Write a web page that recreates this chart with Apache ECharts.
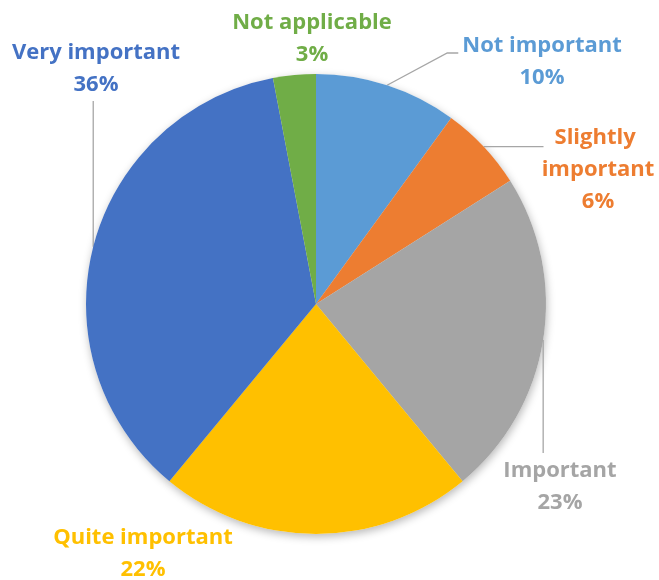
<!DOCTYPE html>
<html>
<head>
<meta charset="utf-8">
<script src="https://cdn.jsdelivr.net/npm/echarts@6/dist/echarts.min.js"></script>
<style>
  html, body { margin: 0; padding: 0; background: #ffffff; }
  #chart { width: 659px; height: 580px; }
</style>
</head>
<body>
<div id="chart"></div>
<script>
// Survey answers, percent of respondents (clockwise from 12 o'clock)
const categories = ['Not important', 'Slightly important', 'Important', 'Quite important', 'Very important', 'Not applicable'];
const shares = [10, 6, 23, 22, 36, 3];

// Slice / label colours
const colors = ['#5B9BD5', '#ED7D31', '#A5A5A5', '#FFC000', '#4472C4', '#70AD47'];

// Pie geometry
const CX = 316, CY = 304, R = 230;

// Where each label block sits: centre x, top y, and how its leader runs
const labelSpots = [
  { x: 542, y: 30, leader: 'elbow' },
  { x: 598, y: 122, leader: 'across', wrap: 125 },
  { x: 560, y: 455, leader: 'down' },
  { x: 143, y: 522, leader: 'none' },
  { x: 96, y: 37, leader: 'up' },
  { x: 312, y: 7, leader: 'none' }
];

const total = shares.reduce((a, b) => a + b, 0);

// Point on the rim at the middle of slice i
function rimPoint(i) {
  let before = 0;
  for (let k = 0; k < i; k++) before += shares[k];
  const a = (before + shares[i] / 2) / total * Math.PI * 2;
  return [CX + R * Math.sin(a), CY - R * Math.cos(a)];
}

const chart = echarts.init(document.getElementById('chart'), null, { renderer: 'canvas' });

const sliceData = categories.map((name, i) => {
  const spot = labelSpots[i];
  const item = {
    name: name,
    value: shares[i],
    itemStyle: { color: colors[i] },
    label: { color: colors[i] },
    labelLine: { show: spot.leader !== 'none' }
  };
  if (spot.wrap) {
    item.label.width = spot.wrap;
    item.label.overflow = 'break';
  }
  return item;
});

chart.setOption({
  backgroundColor: '#ffffff',
  animation: false,
  series: [
    {
      // soft drop shadow under the whole disc
      type: 'pie',
      silent: true,
      z: 1,
      center: [CX, CY],
      radius: R,
      startAngle: 90,
      label: { show: false },
      labelLine: { show: false },
      itemStyle: {
        color: '#ffffff',
        shadowBlur: 9,
        shadowOffsetX: 1,
        shadowOffsetY: 3,
        shadowColor: 'rgba(0,0,0,0.28)'
      },
      data: shares.map((v, i) => ({ name: categories[i], value: v }))
    },
    {
      type: 'pie',
      z: 2,
      center: [CX, CY],
      radius: R,
      startAngle: 90,
      avoidLabelOverlap: false,
      itemStyle: { borderWidth: 0 },
      label: {
        show: true,
        position: 'outside',
        fontFamily: 'Open Sans',
        fontWeight: 'bold',
        fontSize: 22,
        lineHeight: 32,
        align: 'center',
        formatter: (p) => p.name + '\n' + p.value + '%'
      },
      labelLine: {
        show: true,
        lineStyle: { color: '#A6A6A6', width: 1.3 }
      },
      labelLayout: (params) => {
        const i = params.dataIndex;
        const spot = labelSpots[i];
        const rect = params.labelRect;
        const out = { x: spot.x, y: spot.y, align: 'center', verticalAlign: 'top' };
        const p = rimPoint(i);
        const left = spot.x - rect.width / 2;
        if (spot.leader === 'elbow') {
          const end = [left - 4, spot.y + 23];
          out.labelLinePoints = [p, [end[0] - 11, end[1]], end];
        } else if (spot.leader === 'across') {
          out.labelLinePoints = [p, [p[0] + 35, p[1]], [left + 8, p[1]]];
        } else if (spot.leader === 'down') {
          out.labelLinePoints = [p, [p[0], (p[1] + spot.y) / 2], [p[0], spot.y - 2]];
        } else if (spot.leader === 'up') {
          const bottom = spot.y + rect.height;
          out.labelLinePoints = [p, [p[0], (p[1] + bottom) / 2], [p[0], bottom]];
        }
        return out;
      },
      data: sliceData
    }
  ]
});
</script>
</body>
</html>
